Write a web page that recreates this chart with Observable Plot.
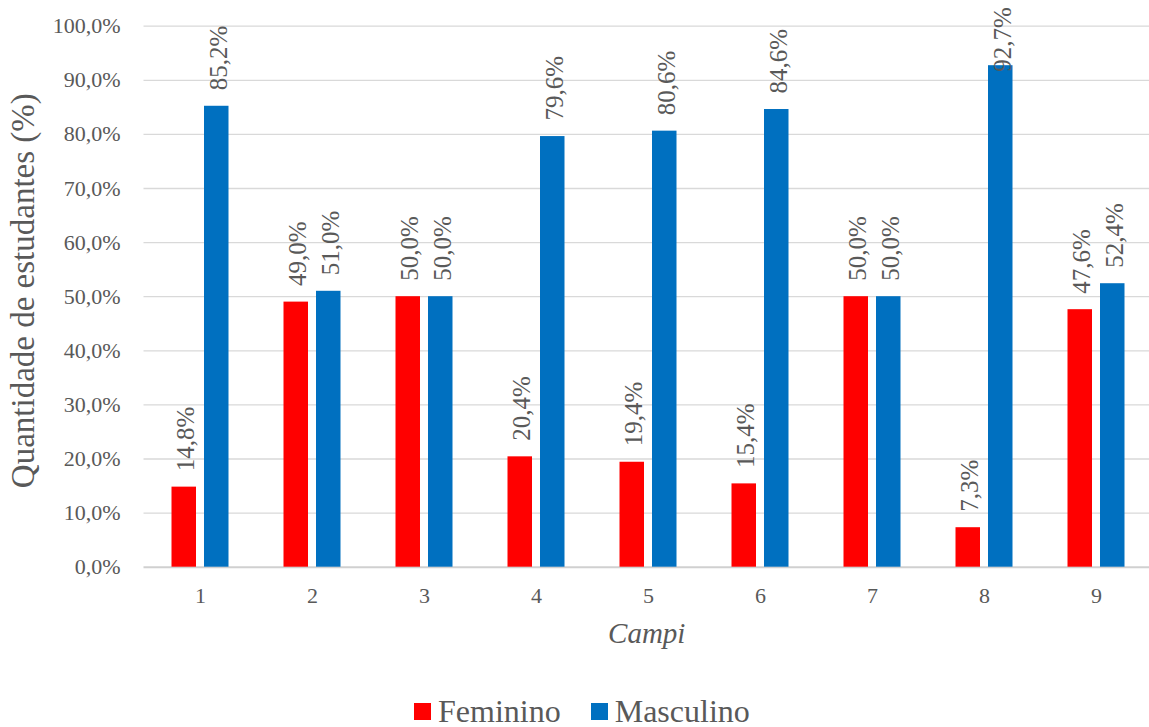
<!DOCTYPE html>
<html><head><meta charset="utf-8">
<script src="https://cdn.jsdelivr.net/npm/d3@7"></script>
<script src="https://cdn.jsdelivr.net/npm/@observablehq/plot@0.6"></script>
<style>
html,body{margin:0;padding:0;background:#fff;}
#chart > svg{display:block}
#chart svg text{font-family:'Liberation Serif','Times New Roman',serif !important;}
.lg-swatch > svg { margin-right: 7px !important; }
.lg-swatches-wrap .lg-swatch { margin-right: 30px !important; }
</style></head><body><div id="chart"></div>
<script>
const campi = ["1","2","3","4","5","6","7","8","9"];
const feminino = [14.8, 49.0, 50.0, 20.4, 19.4, 15.4, 50.0, 7.3, 47.6];
const masculino = [85.2, 51.0, 50.0, 79.6, 80.6, 84.6, 50.0, 92.7, 52.4];
const series = ["Feminino", "Masculino"];
const colors = ["#FF0000", "#0070C0"];
const yTicks = [0,10,20,30,40,50,60,70,80,90,100];
const yTitle = "Quantidade de estudantes (%)";
const xTitle = "Campi";

const rows = campi.flatMap((c,i)=>[
  {campus:c, sexo:series[0], value:feminino[i]},
  {campus:c, sexo:series[1], value:masculino[i]}
]);
const fmt = v => v.toFixed(1).replace(".", ",") + "%";
const F = rows.filter(d=>d.sexo===series[0]);
const M = rows.filter(d=>d.sexo===series[1]);
const fits = d => d.value <= 90;
const txt = "#595959";
const font = "'Liberation Serif', 'Times New Roman', serif";

const chart = Plot.plot({
  width: 1149,
  height: 665,
  marginTop: 25.7,
  marginBottom: 98.3,
  marginLeft: 143.5,
  marginRight: 0,
  style: {fontFamily: font, fontSize: "22px", color: txt, background: "#fff"},
  x: {type: "band", domain: campi, range: [143.5, 1151.5], padding: 0, tickSize: 0, tickPadding: 20, label: null},
  y: {domain: [0, 100], ticks: yTicks, tickFormat: fmt, tickSize: 0, tickPadding: 23.5, label: null},
  color: {domain: series, range: colors},
  marks: [
    Plot.ruleY(yTicks.filter(t => t > 0), {stroke: "#d9d9d9", strokeWidth: 1.3}),
    Plot.ruleY([0], {stroke: "#d0d0d0", strokeWidth: 2}),
    Plot.barY(F, {x: "campus", y: "value", fill: "sexo", insetLeft: 27.5, insetRight: 60}),
    Plot.barY(M, {x: "campus", y: "value", fill: "sexo", insetLeft: 60, insetRight: 27.5}),
    Plot.text(F.filter(fits), {x: "campus", y: "value", text: d => fmt(d.value), rotate: -90, textAnchor: "start", lineAnchor: "middle", dx: -14.5, dy: -16, fontSize: 25, fill: txt}),
    Plot.text(M.filter(fits), {x: "campus", y: "value", text: d => fmt(d.value), rotate: -90, textAnchor: "start", lineAnchor: "middle", dx: 18, dy: -16, fontSize: 25, fill: txt}),
    Plot.text(M.filter(d => !fits(d)), {x: "campus", frameAnchor: "top", text: d => fmt(d.value), rotate: -90, textAnchor: "end", lineAnchor: "middle", dx: 18, dy: -19, fontSize: 25, fill: txt}),
    Plot.text([yTitle], {frameAnchor: "left", text: d => d, rotate: -90, textAnchor: "middle", lineAnchor: "middle", dx: -120.5, dy: -6, fontSize: 33, fill: txt}),
    Plot.text([xTitle], {frameAnchor: "bottom", text: d => d, textAnchor: "middle", lineAnchor: "middle", dy: 67, fontSize: 29, fontStyle: "italic", fill: txt})
  ]
});
document.getElementById("chart").appendChild(chart);
const legend = chart.legend("color", {
  swatchSize: 17,
  className: "lg",
  style: {fontFamily: font, fontSize: "32px", color: txt, lineHeight: "36px", marginTop: "28px", marginLeft: "414px"}
});
document.getElementById("chart").appendChild(legend);
</script></body></html>
